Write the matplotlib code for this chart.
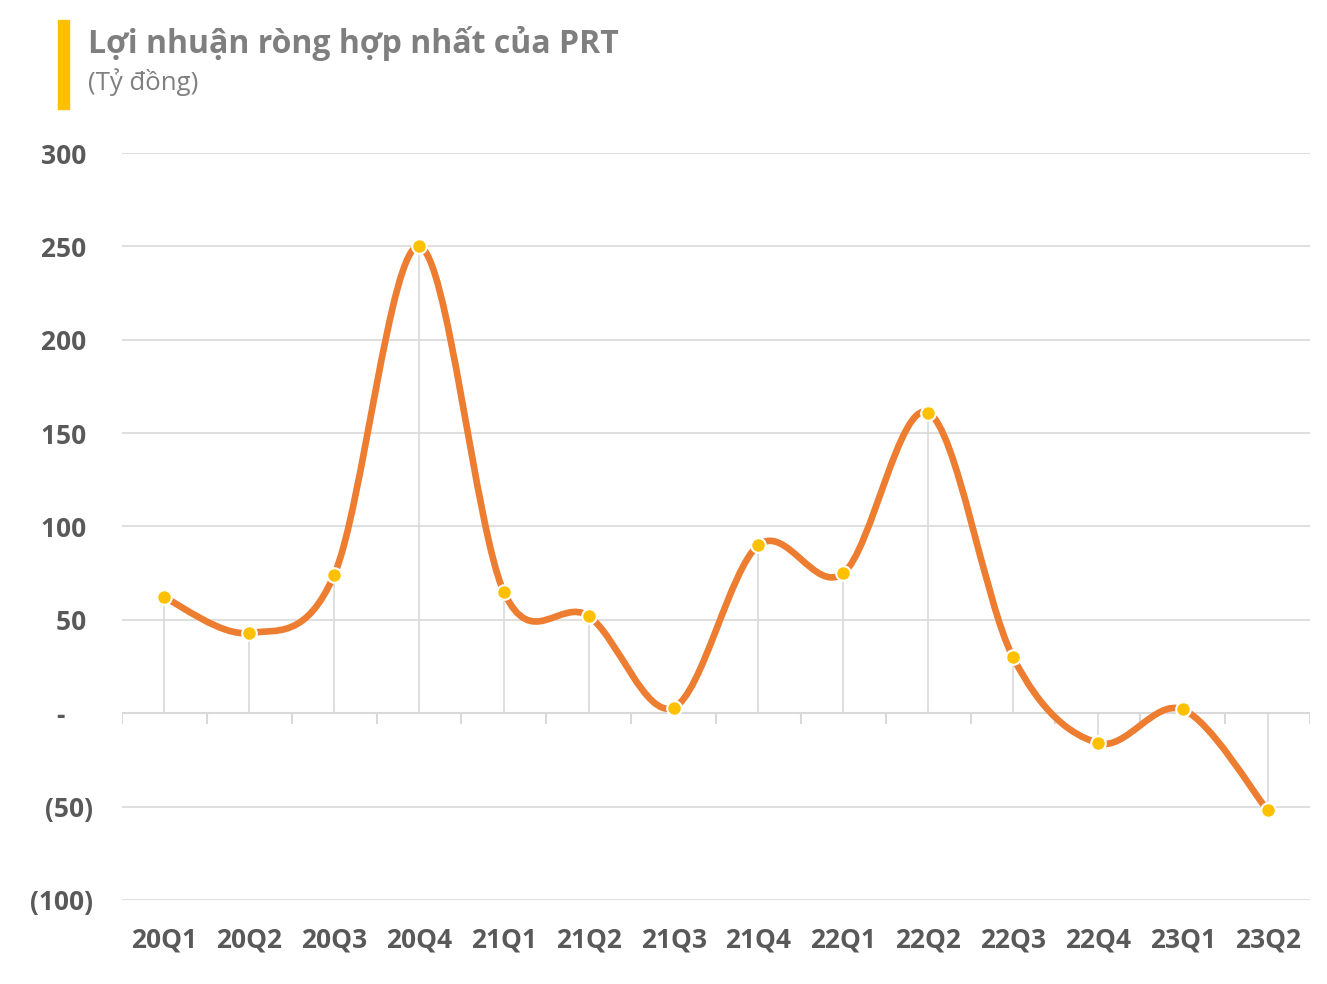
import numpy as np
import matplotlib
matplotlib.use('Agg')
import matplotlib.pyplot as plt
from matplotlib.path import Path
from matplotlib.patches import PathPatch

plt.rcParams['font.family'] = ['Open Sans', 'DejaVu Sans']

# du lieu (ty dong)
quy = ['20Q1', '20Q2', '20Q3', '20Q4', '21Q1', '21Q2', '21Q3',
       '21Q4', '22Q1', '22Q2', '22Q3', '22Q4', '23Q1', '23Q2']
loi_nhuan = [62, 43, 74, 250, 65, 52, 3, 90, 75, 161, 30, -16, 2, -52]

yticks = [-100, -50, 0, 50, 100, 150, 200, 250, 300]
ylabels = ['(100)', '(50)', '-    ', '50 ', '100 ', '150 ', '200 ', '250 ', '300 ']

cam = '#ED7D31'
vang = '#FFC000'
xam_chu = '#595959'
xam_luoi = '#D9D9D9'

fig = plt.figure(figsize=(13.27, 9.84), dpi=100)
ax = fig.add_axes([0.0919, 0.0854, 0.8953, 0.7591])

x = np.arange(len(quy))
y = np.array(loi_nhuan, dtype=float)

# duong cong muot kieu Excel (Catmull-Rom -> Bezier)
verts = [(x[0], y[0])]
codes = [Path.MOVETO]
for i in range(len(x) - 1):
    p0 = np.array([x[max(i - 1, 0)], y[max(i - 1, 0)]])
    p1 = np.array([x[i], y[i]])
    p2 = np.array([x[i + 1], y[i + 1]])
    p3 = np.array([x[min(i + 2, len(x) - 1)], y[min(i + 2, len(x) - 1)]])
    c1 = p1 + (p2 - p0) / 6
    c2 = p2 - (p3 - p1) / 6
    verts += [tuple(c1), tuple(c2), tuple(p2)]
    codes += [Path.CURVE4] * 3
ax.add_patch(PathPatch(Path(verts, codes), facecolor='none', edgecolor=cam,
                       lw=4.8, capstyle='round', zorder=3))

# duong gioi han doc
ax.vlines(x, 0, y, color=xam_luoi, lw=1.2, zorder=1)

ax.plot(x, y, linestyle='none', marker='o', markersize=10.5, mfc=vang,
        mec='white', mew=1.5, zorder=4)

ax.set_xlim(-0.5, len(quy) - 0.5)
ax.set_ylim(-100, 300)
ax.set_yticks(yticks)
ax.set_yticklabels(ylabels)
ax.yaxis.grid(True, color=xam_luoi, lw=1.2)
ax.set_axisbelow(True)
ax.tick_params(axis='y', length=0, pad=21, labelsize=19, labelcolor=xam_chu)
for t in ax.get_yticklabels():
    t.set_fontweight('bold')

ax.set_xticks(x)
ax.set_xticklabels(quy)
ax.tick_params(axis='x', length=0, pad=19, labelsize=19, labelcolor=xam_chu)
for t in ax.get_xticklabels():
    t.set_fontweight('bold')

for s in ax.spines.values():
    s.set_visible(False)

# truc hoanh tai 0 va vach chia
ax.axhline(0, color=xam_luoi, lw=1.5, zorder=2)
ranh = np.arange(-0.5, len(quy), 1.0)
ax.vlines(ranh, -6, 0, color=xam_luoi, lw=1.5, zorder=2)

# tieu de
fig.patches.append(plt.Rectangle((0.0437, 0.889), 0.0083, 0.091,
                                 transform=fig.transFigure, color=vang))
fig.text(0.066, 0.956, 'Lợi nhuận ròng hợp nhất của PRT', fontsize=23,
         fontweight='bold', color='#7F7F7F', va='center')
fig.text(0.066, 0.917, '(Tỷ đồng)', fontsize=18.5, color='#7F7F7F', va='center')

fig.savefig('out.png', dpi=100, facecolor='white')
